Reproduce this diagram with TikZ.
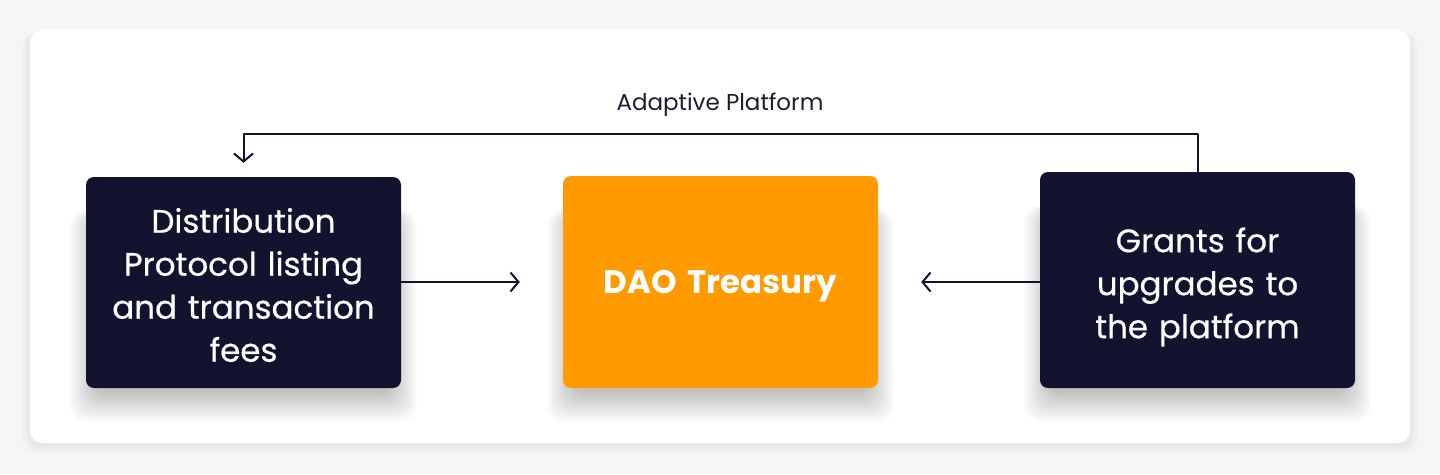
\documentclass[tikz,border=0pt]{standalone}
\usepackage{fontspec}
\setmainfont{Poppins}
\usetikzlibrary{arrows.meta,positioning,backgrounds}
\definecolor{daoNavy}{HTML}{11132F}
\definecolor{daoOrange}{HTML}{FF9A00}
\definecolor{daoPaper}{HTML}{F5F6F8}
\definecolor{daoInk}{HTML}{1B1D33}
\begin{document}
\begin{tikzpicture}[x=1pt,y=-1pt,>=Latex,line cap=round,line join=round]
\tikzset{card/.style={rounded corners=8pt,minimum width=315pt},darkcard/.style={card,fill=daoNavy},cardtext/.style={text width=300pt,align=center,text=white,font=\addfontfeatures{FakeBold=0.5}\fontsize{32.5}{43}\selectfont},flow/.style={draw=daoNavy,line width=2pt,-{Straight Barb[length=8pt,width=19pt,line width=2pt]}},haze/.style={fill=black,opacity=0.011,rounded corners=16pt}}
\node[darkcard,minimum height=211pt,label={[cardtext,yshift=-2.5pt]center:{Distribution\\Protocol listing\\and transaction\\fees}}] (fees) at (243.5,282.5) {};
\node[card,fill=daoOrange,minimum height=212pt,label={[cardtext,yshift=-4pt,font=\bfseries\fontsize{32.5}{43}\selectfont]center:{DAO Treasury}}] (treasury) at (720.5,282) {};
\node[darkcard,minimum height=216pt,label={[cardtext,yshift=-7pt]center:{Grants for\\upgrades to\\the platform}}] (grants) at (1197.5,280) {};
\draw[flow,shorten >=43pt] (fees.east |- 0,282) -- (treasury.west |- 0,282);
\draw[flow,shorten >=43pt] (grants.west |- 0,282) -- (treasury.east |- 0,282);
\draw[flow,shorten >=14pt] (grants.north) -- (grants.north |- 0,134) -| (fees.north);
\node[text=daoInk,font=\fontsize{23}{27}\selectfont] (adaptive) at (720,105) {Adaptive Platform};
\begin{scope}[on background layer]
\path[fill=daoPaper] (0,0) rectangle (1440,474);
\foreach \i in {1,...,8}
  \fill[fill=black,opacity=0.008,rounded corners=12pt] (30-\i,30+3) rectangle (1410+\i,443+\i+2);
\path[fill=white,rounded corners=12pt] (30,30) rectangle (1410,443);
\foreach \n in {fees,treasury,grants}
  \foreach \i in {1,...,20}
    \fill[haze] ([shift={(-\i*1.3+10,40-\i*0.3)}]\n.north west) rectangle ([shift={(\i*1.3-10,4+\i*1.5)}]\n.south east);
\end{scope}
\end{tikzpicture}
\end{document}
